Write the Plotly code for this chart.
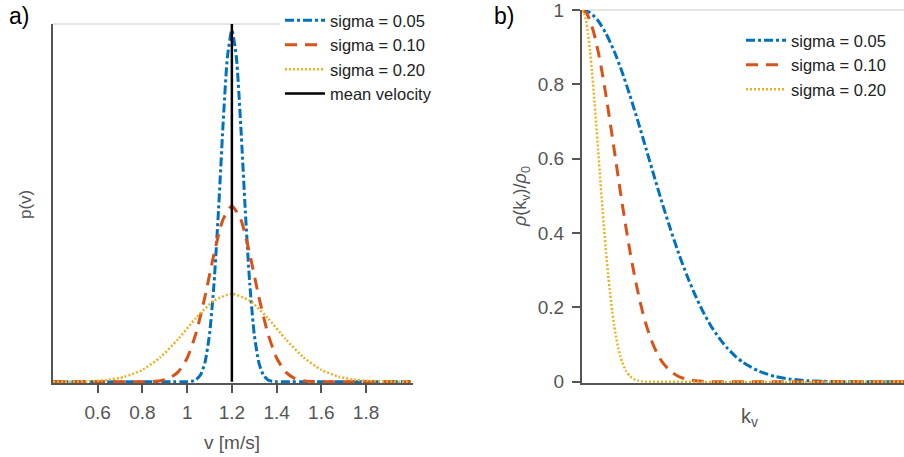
import plotly.graph_objects as go

W, H = 904, 457

# ---------------- data ----------------
# panel a: p(v)
v_005 = [0.4, 1.0, 1.02, 1.04, 1.06, 1.08, 1.10, 1.12, 1.14, 1.16, 1.18, 1.20,
         1.22, 1.24, 1.26, 1.28, 1.30, 1.32, 1.34, 1.36, 1.38, 1.40, 2.0]
p_005 = [0.0, 0.003, 0.012, 0.048, 0.158, 0.448, 1.08, 2.22, 3.88, 5.79, 7.37, 7.98,
         7.37, 5.79, 3.88, 2.22, 1.08, 0.448, 0.158, 0.048, 0.012, 0.003, 0.0]

v_010 = [0.4, 0.80, 0.84, 0.88, 0.92, 0.96, 1.00, 1.04, 1.08, 1.12, 1.16, 1.20,
         1.24, 1.28, 1.32, 1.36, 1.40, 1.44, 1.48, 1.52, 1.56, 1.60, 2.0]
p_010 = [0.0, 0.0013, 0.006, 0.024, 0.079, 0.224, 0.54, 1.11, 1.94, 2.90, 3.68, 3.99,
         3.68, 2.90, 1.94, 1.11, 0.54, 0.224, 0.079, 0.024, 0.006, 0.0013, 0.0]

v_020 = [0.40, 0.48, 0.56, 0.64, 0.72, 0.80, 0.88, 0.96, 1.04, 1.12, 1.20,
         1.28, 1.36, 1.44, 1.52, 1.60, 1.68, 1.76, 1.84, 1.92, 2.00]
p_020 = [0.0007, 0.003, 0.012, 0.040, 0.112, 0.27, 0.555, 0.97, 1.45, 1.84, 1.995,
         1.84, 1.45, 0.97, 0.555, 0.27, 0.112, 0.040, 0.012, 0.003, 0.0007]

mean_v = [1.2, 1.2]
mean_p = [0.0, 8.12]

x_ticks_a = [0.6, 0.8, 1.0, 1.2, 1.4, 1.6, 1.8]
x_ticktext_a = ["0.6", "0.8", "1", "1.2", "1.4", "1.6", "1.8"]

# panel b: rho(k_v)/rho_0  (k_v in arbitrary units, axis 0..1)
k_005 = [0, 0.025, 0.05, 0.075, 0.1, 0.125, 0.15, 0.175, 0.2, 0.225, 0.25, 0.275, 0.3,
         0.325, 0.35, 0.375, 0.4, 0.425, 0.45, 0.475, 0.5, 0.55, 0.6, 0.65, 0.7, 0.75, 0.8, 1.0]
r_005 = [1.0, 0.993, 0.971, 0.936, 0.889, 0.832, 0.767, 0.697, 0.624, 0.550, 0.478, 0.410, 0.346,
         0.288, 0.236, 0.190, 0.151, 0.119, 0.0917, 0.0698, 0.0523, 0.0282, 0.0143, 0.0068,
         0.0031, 0.0013, 0.0005, 0.0]

k_010 = [0, 0.0125, 0.025, 0.0375, 0.05, 0.0625, 0.075, 0.0875, 0.1, 0.1125, 0.125, 0.1375, 0.15,
         0.1625, 0.175, 0.1875, 0.2, 0.2125, 0.225, 0.2375, 0.25, 0.275, 0.3, 0.325, 0.35, 0.375, 0.4, 1.0]
r_010 = [1.0, 0.993, 0.971, 0.936, 0.889, 0.832, 0.767, 0.697, 0.624, 0.550, 0.478, 0.410, 0.346,
         0.288, 0.236, 0.190, 0.151, 0.119, 0.0917, 0.0698, 0.0523, 0.0282, 0.0143, 0.0068,
         0.0031, 0.0013, 0.0005, 0.0]

k_020 = [0, 0.00625, 0.0125, 0.01875, 0.025, 0.03125, 0.0375, 0.04375, 0.05, 0.05625, 0.0625,
         0.06875, 0.075, 0.08125, 0.0875, 0.09375, 0.1, 0.10625, 0.1125, 0.11875, 0.125, 0.1375,
         0.15, 0.1625, 0.175, 0.1875, 0.2, 1.0]
r_020 = [1.0, 0.993, 0.971, 0.936, 0.889, 0.832, 0.767, 0.697, 0.624, 0.550, 0.478, 0.410, 0.346,
         0.288, 0.236, 0.190, 0.151, 0.119, 0.0917, 0.0698, 0.0523, 0.0282, 0.0143, 0.0068,
         0.0031, 0.0013, 0.0005, 0.0]

y_ticks_b = [0, 0.2, 0.4, 0.6, 0.8, 1.0]
y_ticktext_b = ["0", "0.2", "0.4", "0.6", "0.8", "1"]

labels = ["sigma = 0.05", "sigma = 0.10", "sigma = 0.20", "mean velocity"]

# ---------------- styling ----------------
BLUE, RED, YEL = "#0072BD", "#D95319", "#EDB120"
AX = "#555555"
FONT = "Arial, Liberation Sans, sans-serif"


def px(x):
    return x / W


def py(y):
    return 1 - y / H


styles = [
    dict(color=BLUE, width=3, dash="9px,3px,3px,3px"),
    dict(color=RED, width=3, dash="12px,8px"),
    dict(color=YEL, width=2.5, dash="2px,2px"),
]

fig = go.Figure()

for xs, ys, st, lab in zip([v_005, v_010, v_020], [p_005, p_010, p_020], styles, labels):
    fig.add_trace(go.Scatter(x=xs, y=ys, mode="lines", name=lab, line=dict(shape="spline", smoothing=0.6, **st),
                             xaxis="x", yaxis="y", legend="legend", hoverinfo="skip"))
fig.add_trace(go.Scatter(x=mean_v, y=mean_p, mode="lines", name=labels[3],
                         line=dict(color="black", width=2.5), xaxis="x", yaxis="y", legend="legend"))

for xs, ys, st, lab in zip([k_005, k_010, k_020], [r_005, r_010, r_020], styles, labels):
    fig.add_trace(go.Scatter(x=xs, y=ys, mode="lines", name=lab, line=dict(shape="spline", smoothing=0.6, **st),
                             xaxis="x2", yaxis="y2", legend="legend2", hoverinfo="skip"))

axcommon = dict(showline=True, linecolor=AX, linewidth=2, showgrid=False, zeroline=False,
                tickfont=dict(family=FONT, size=19, color=AX), automargin=False,
                ticklabeloverflow="allow")

ydom = [py(383.3), py(24)]
ydom2 = [py(383.3), py(10)]

fig.update_layout(
    width=W, height=H,
    margin=dict(l=0, r=0, t=0, b=0, pad=0, autoexpand=False),
    paper_bgcolor="white", plot_bgcolor="white",
    font=dict(family=FONT),
    xaxis=dict(domain=[px(53), px(413)], range=[0.4, 2.01], tickmode="array", tickvals=x_ticks_a,
               ticktext=x_ticktext_a, ticks="outside", ticklen=8, tickwidth=2, tickcolor=AX,
               ticklabelstandoff=3, **axcommon),
    yaxis=dict(domain=ydom, range=[-0.035, 8.12], showticklabels=False, ticks="", **axcommon),
    xaxis2=dict(domain=[px(582), 1.0], range=[0, 1], showticklabels=False, ticks="", anchor="y2", **axcommon),
    yaxis2=dict(domain=ydom2, range=[-0.004, 1.0], tickmode="array", tickvals=y_ticks_b, ticktext=y_ticktext_b,
                ticks="outside", ticklen=8, tickwidth=2, tickcolor=AX, anchor="x2",
                ticklabelstandoff=4, **axcommon),
    legend=dict(x=px(280), y=py(3), xanchor="left", yanchor="top", bgcolor="white", borderwidth=0,
                font=dict(family=FONT, size=16.5, color="#222222"), tracegroupgap=0,
                itemwidth=40),
    legend2=dict(x=px(741), y=py(23), xanchor="left", yanchor="top", bgcolor="white", borderwidth=0,
                 font=dict(family=FONT, size=16.5, color="#222222"), tracegroupgap=0,
                 itemwidth=40),
    showlegend=True,
)

shapes = [
    dict(type="line", xref="paper", yref="paper", x0=px(53), x1=px(413), y0=py(24), y1=py(24),
         line=dict(color="#cccccc", width=1), layer="below"),
    dict(type="line", xref="paper", yref="paper", x0=px(582), x1=1.0, y0=py(10), y1=py(10),
         line=dict(color="#cccccc", width=1), layer="below"),
]
fig.update_layout(shapes=shapes)

ann = [
    dict(text="a)", x=px(7), y=py(16), xanchor="left", yanchor="middle", font=dict(size=23, color="black")),
    dict(text="b)", x=px(492), y=py(16), xanchor="left", yanchor="middle", font=dict(size=23, color="black")),
    dict(text="p(v)", x=px(25), y=py(205), xanchor="center", yanchor="middle", textangle=-90,
         font=dict(size=17, color=AX)),
    dict(text="v [m/s]", x=px(232), y=py(442), xanchor="center", yanchor="middle", font=dict(size=19, color=AX)),
    dict(text="<i>ρ</i>(k<sub>v</sub>)/<i>ρ</i><sub>0</sub>", x=px(522), y=py(197), xanchor="center",
         yanchor="middle", textangle=-90, font=dict(size=18, color=AX)),
    dict(text="k<sub>v</sub>", x=px(749), y=py(417), xanchor="center", yanchor="middle",
         font=dict(size=20, color=AX)),
]
for a in ann:
    a.update(xref="paper", yref="paper", showarrow=False)
    a["font"]["family"] = FONT
fig.update_layout(annotations=ann)

fig.write_html("out.html")
